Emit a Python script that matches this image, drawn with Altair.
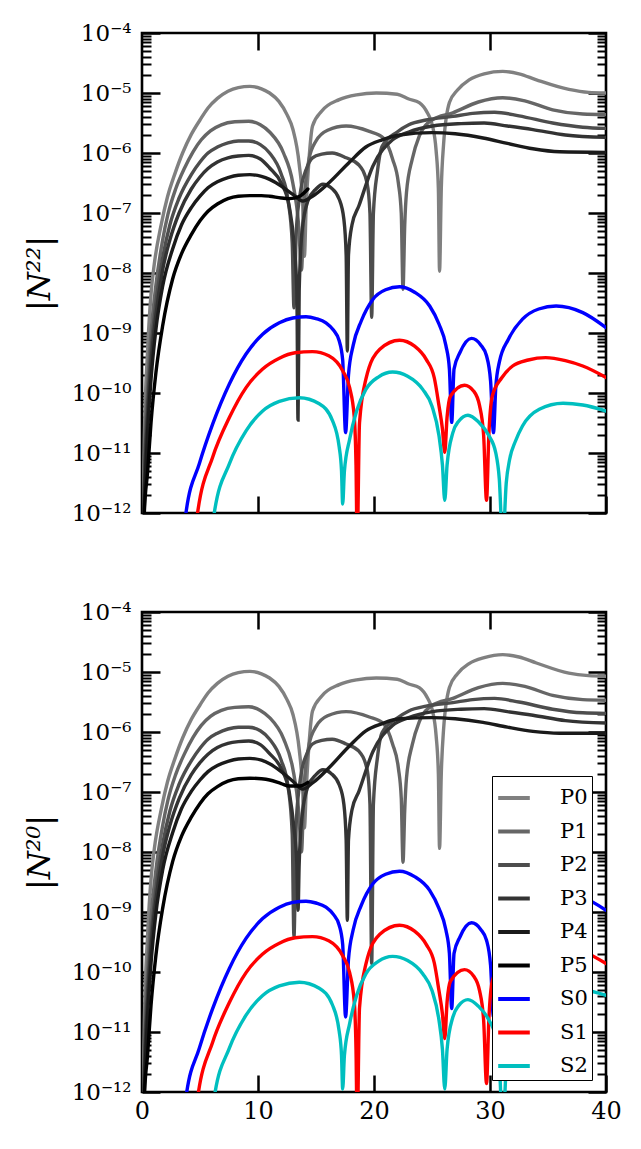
import altair as alt
import pandas as pd

# ---------------- data (x positions and log10 of |N|) ----------------
SERIES = ["P0", "P1", "P2", "P3", "P4", "P5", "S0", "S1", "S2"]
COLORS = ["#808080", "#666666", "#4d4d4d", "#333333", "#1a1a1a", "#000000",
          "#0000ff", "#ff0000", "#00bfbf"]

P0_x = [0.1, 0.2, 0.48, 0.8, 1.06, 1.66, 2.2, 2.81, 3.5, 4.25, 5.0, 5.69, 6.5, 7.41, 8.3, 9.3,
        10.3, 11.0, 11.8, 12.5, 13.0, 13.56, 13.85, 14.0, 14.15, 14.4, 14.7, 15.5, 17.0, 18.5,
        20.2, 22.0, 23.0, 23.9, 24.6, 25.05, 25.35, 25.55, 25.65, 25.8, 26.0, 26.5, 27.2, 28.2,
        29.5, 31.1, 32.5, 34.0, 36.8, 38.5, 40.0]
P0_top = [-12.0, -10.77, -9.3, -8.3, -7.85, -7.19, -6.73, -6.36, -6.0, -5.69, -5.45, -5.25,
          -5.09, -4.97, -4.91, -4.89, -4.93, -5.0, -5.14, -5.36, -5.6, -6.2, -6.85, -7.72, -6.9,
          -6.1, -5.55, -5.3, -5.11, -5.03, -5.0, -5.02, -5.1, -5.16, -5.33, -5.55, -5.95, -6.6,
          -7.97, -6.6, -5.85, -5.16, -4.95, -4.78, -4.68, -4.64, -4.68, -4.78, -4.94, -4.99, -5.0]
P0_bot = [-12.1, -10.87, -9.4, -8.4, -7.95, -7.29, -6.83, -6.46, -6.1, -5.79, -5.55, -5.35,
          -5.19, -5.07, -5.01, -4.99, -5.03, -5.1, -5.24, -5.46, -5.7, -6.3, -6.95, -7.6, -7.0,
          -6.2, -5.65, -5.4, -5.21, -5.13, -5.1, -5.12, -5.2, -5.26, -5.43, -5.65, -6.05, -6.7,
          -7.94, -6.7, -5.95, -5.26, -5.03, -4.86, -4.76, -4.71, -4.75, -4.85, -5.02, -5.06, -5.07]

P1_x = [0.1, 0.2, 0.48, 0.78, 1.2, 1.78, 2.24, 2.9, 3.67, 4.4, 5.11, 5.9, 6.84, 8.0, 9.2, 10.2,
        11.0, 12.2, 13.0, 13.5, 13.75, 13.95, 14.4, 15.0, 16.0, 17.6, 19.6, 20.8, 21.6, 22.1,
        22.35, 22.5, 22.65, 22.8, 23.3, 23.9, 25.0, 26.8, 29.0, 31.1, 33.0, 35.4, 38.0, 40.0]
P1_top = [-12.3, -11.2, -9.9, -9.0, -8.2, -7.45, -7.02, -6.6, -6.25, -5.98, -5.78, -5.63, -5.53,
          -5.48, -5.47, -5.53, -5.65, -6.0, -6.5, -7.2, -7.95, -6.9, -6.1, -5.8, -5.62, -5.55,
          -5.64, -5.75, -6.1, -6.5, -7.0, -8.27, -7.2, -6.66, -6.1, -5.72, -5.45, -5.33, -5.15,
          -5.08, -5.13, -5.28, -5.35, -5.36]
P1_bot = [-12.4, -11.3, -10.0, -9.1, -8.3, -7.56, -7.13, -6.71, -6.36, -6.09, -5.89, -5.74, -5.64,
          -5.59, -5.58, -5.64, -5.76, -6.11, -6.61, -7.3, -8.0, -7.0, -6.21, -5.91, -5.73, -5.66,
          -5.75, -5.86, -6.2, -6.6, -7.1, -8.17, -7.3, -6.77, -6.21, -5.83, -5.56, -5.44, -5.26,
          -5.19, -5.24, -5.39, -5.46, -5.47]

P2_x = [0.1, 0.2, 0.48, 0.78, 1.2, 1.78, 2.4, 3.2, 4.25, 5.0, 5.69, 6.5, 7.41, 8.3, 9.2, 10.2,
        11.0, 12.0, 12.6, 12.95, 13.1, 13.3, 13.7, 14.2, 14.7, 15.5, 16.4, 17.6, 18.7, 19.4,
        19.65, 19.8, 19.95, 20.3, 20.7, 22.0, 23.0, 24.5, 26.8, 28.5, 30.4, 32.5, 35.4, 38.0, 40.0]
P2_top = [-12.5, -11.5, -10.2, -9.3, -8.5, -7.75, -7.2, -6.75, -6.36, -6.15, -6.0, -5.9, -5.83,
          -5.8, -5.80, -5.86, -6.0, -6.35, -6.8, -7.5, -8.58, -7.3, -6.6, -6.25, -6.08, -6.02,
          -6.0, -6.08, -6.2, -6.5, -7.0, -8.74, -7.0, -6.3, -5.89, -5.65, -5.53, -5.45, -5.39,
          -5.34, -5.32, -5.38, -5.50, -5.57, -5.59]
P2_bot = [-12.6, -11.6, -10.3, -9.42, -8.62, -7.87, -7.32, -6.87, -6.48, -6.27, -6.12, -6.02,
          -5.95, -5.92, -5.92, -5.98, -6.12, -6.47, -6.92, -7.7, -9.42, -7.5, -6.72, -6.37, -6.2,
          -6.14, -6.12, -6.2, -6.32, -6.62, -7.2, -9.86, -7.2, -6.42, -6.01, -5.77, -5.65, -5.57,
          -5.51, -5.46, -5.44, -5.5, -5.62, -5.68, -5.69]

P3_x = [0.1, 0.2, 0.48, 0.78, 1.2, 1.78, 2.4, 3.2, 4.25, 5.0, 5.69, 6.5, 7.41, 8.3, 9.2, 10.2,
        11.0, 12.0, 12.7, 13.1, 13.35, 13.45, 13.55, 13.8, 14.3, 15.0, 15.6, 16.3, 17.0, 17.4,
        17.6, 17.7, 17.8, 18.1, 18.7, 19.9, 21.6, 23.0, 25.05, 27.5, 29.5, 31.5, 33.7, 36.5, 40.0]
P3_top = [-12.7, -11.7, -10.4, -9.5, -8.7, -7.95, -7.45, -7.0, -6.6, -6.4, -6.26, -6.15, -6.08,
          -6.05, -6.04, -6.1, -6.25, -6.5, -6.9, -7.5, -8.3, -10.45, -8.3, -7.3, -6.8, -6.6,
          -6.52, -6.58, -6.77, -7.1, -7.7, -9.30, -7.7, -7.2, -6.88, -6.22, -5.78, -5.65, -5.55,
          -5.51, -5.5, -5.55, -5.61, -5.7, -5.74]
P3_bot = [-12.8, -11.8, -10.5, -9.6, -8.8, -8.06, -7.56, -7.11, -6.71, -6.51, -6.37, -6.26,
          -6.19, -6.16, -6.15, -6.21, -6.36, -6.61, -7.01, -7.6, -8.2, -8.97, -8.2, -7.4, -6.91,
          -6.71, -6.63, -6.69, -6.88, -7.2, -7.8, -9.14, -7.8, -7.3, -6.99, -6.33, -5.89, -5.76,
          -5.66, -5.62, -5.61, -5.66, -5.72, -5.81, -5.85]

P4_x = [0.1, 0.2, 0.48, 0.78, 1.2, 1.78, 2.64, 3.4, 4.25, 5.0, 5.69, 6.5, 7.41, 8.3, 9.3, 10.3,
        11.0, 12.0, 13.0, 13.85, 14.7, 16.1, 17.9, 19.3, 20.7, 22.2, 25.0, 27.0, 29.4, 31.5,
        33.7, 36.0, 40.0]
P4_top = [-12.5, -11.9, -10.66, -9.77, -8.94, -8.22, -7.6, -7.2, -6.91, -6.72, -6.58, -6.48,
          -6.41, -6.37, -6.36, -6.39, -6.44, -6.55, -6.69, -6.80, -6.72, -6.5, -6.15, -5.9,
          -5.78, -5.7, -5.66, -5.68, -5.75, -5.84, -5.93, -5.98, -5.99]
P4_bot = [-12.6, -12.0, -10.74, -9.85, -9.02, -8.3, -7.68, -7.28, -6.99, -6.8, -6.66, -6.56,
          -6.49, -6.45, -6.44, -6.47, -6.53, -6.66, -6.82, -6.95, -6.85, -6.6, -6.23, -5.98,
          -5.86, -5.78, -5.76, -5.78, -5.84, -5.92, -5.99, -6.02, -6.02]

P5_x = [0.1, 0.2, 0.48, 0.78, 1.2, 1.78, 2.64, 3.4, 4.25, 5.0, 5.69, 6.5, 7.41, 8.3, 9.3, 10.3,
        11.0, 12.0, 12.7, 13.6, 14.3]
P5_top = [-12.6, -12.0, -11.32, -10.49, -9.66, -8.88, -8.10, -7.68, -7.36, -7.13, -6.97, -6.85,
          -6.76, -6.72, -6.71, -6.71, -6.72, -6.75, -6.76, -6.72, -6.60]
P5_bot = [-12.7, -12.1, -11.38, -10.55, -9.72, -8.94, -8.16, -7.74, -7.42, -7.19, -7.03, -6.91,
          -6.82, -6.78, -6.77, -6.78, -6.8, -6.86, -6.9, -6.9, -6.84]

S0_x = [3.4, 3.79, 4.94, 6.09, 7.53, 8.97, 10.4, 11.84, 13.0, 14.14, 15.0, 15.86, 16.5, 17.0,
        17.3, 17.55, 17.8, 18.2, 18.9, 19.9, 21.0, 22.2, 23.5, 24.8, 25.6, 26.2, 26.5, 26.7,
        26.9, 27.4, 28.4, 29.2, 29.7, 30.05, 30.3, 30.5, 30.8, 31.6, 32.8, 34.2, 35.7, 38.0, 40.0]
S0_top = [-12.8, -12.0, -11.18, -10.52, -9.85, -9.35, -9.02, -8.83, -8.75, -8.73, -8.76, -8.83,
          -8.95, -9.13, -9.45, -10.66, -9.7, -9.21, -8.8, -8.44, -8.28, -8.23, -8.32, -8.55,
          -8.85, -9.21, -9.6, -10.49, -9.6, -9.33, -9.09, -9.2, -9.38, -9.8, -10.66, -9.9, -9.49,
          -9.1, -8.77, -8.6, -8.55, -8.66, -8.91]
S0_bot = [-12.9, -12.09, -11.27, -10.61, -9.94, -9.44, -9.11, -8.92, -8.84, -8.82, -8.85, -8.92,
          -9.04, -9.22, -9.54, -10.75, -9.79, -9.3, -8.89, -8.53, -8.37, -8.32, -8.41, -8.64,
          -8.94, -9.3, -9.69, -10.61, -9.69, -9.42, -9.18, -9.29, -9.47, -9.89, -10.75, -9.99,
          -9.58, -9.19, -8.86, -8.69, -8.64, -8.75, -8.97]

S1_x = [4.3, 4.79, 6.09, 7.53, 8.97, 10.4, 11.84, 13.2, 14.7, 16.1, 17.3, 17.9, 18.3, 18.45,
        18.55, 18.75, 19.3, 20.5, 22.2, 23.5, 24.5, 25.2, 25.6, 25.9, 26.1, 26.3, 26.6, 27.8,
        28.6, 29.1, 29.45, 29.7, 29.9, 30.2, 31.0, 31.95, 33.3, 34.8, 36.5, 38.0, 40.0]
S1_top = [-12.8, -12.0, -11.07, -10.41, -9.91, -9.60, -9.42, -9.33, -9.31, -9.38, -9.63, -9.91,
          -10.4, -11.2, -12.5, -10.5, -9.77, -9.27, -9.12, -9.22, -9.44, -9.75, -10.21, -10.6,
          -10.99, -10.4, -10.05, -9.87, -9.97, -10.21, -10.7, -11.79, -10.7, -10.05, -9.75,
          -9.55, -9.45, -9.41, -9.46, -9.55, -9.74]
S1_bot = [-12.9, -12.1, -11.17, -10.51, -10.01, -9.70, -9.52, -9.43, -9.41, -9.48, -9.73, -10.01,
          -10.5, -11.3, -12.6, -10.6, -9.87, -9.37, -9.22, -9.32, -9.54, -9.85, -10.31, -10.7,
          -11.11, -10.5, -10.15, -9.96, -10.07, -10.31, -10.8, -11.86, -10.8, -10.15, -9.85,
          -9.65, -9.55, -9.51, -9.56, -9.65, -9.86]

S2_x = [5.9, 6.23, 7.53, 8.97, 10.4, 11.84, 13.56, 15.28, 16.42, 17.0, 17.2, 17.3, 17.45, 17.9,
        18.5, 19.3, 20.4, 21.6, 22.9, 24.2, 25.0, 25.6, 25.9, 26.1, 26.3, 26.8, 27.3, 28.1, 29.0,
        29.9, 30.5, 30.8, 31.1, 31.4, 31.7, 32.2, 32.8, 34.25, 36.3, 38.0, 40.0]
S2_top = [-12.8, -12.0, -11.18, -10.63, -10.30, -10.14, -10.08, -10.18, -10.46, -10.9, -11.3,
          -11.85, -11.3, -10.77, -10.3, -9.94, -9.73, -9.65, -9.72, -9.94, -10.22, -10.71, -11.2,
          -11.79, -11.2, -10.66, -10.47, -10.37, -10.48, -10.71, -11.0, -11.43, -12.5, -11.5,
          -11.1, -10.8, -10.55, -10.27, -10.17, -10.2, -10.30]
S2_bot = [-12.9, -12.09, -11.27, -10.72, -10.39, -10.23, -10.17, -10.27, -10.55, -10.99, -11.39,
          -11.95, -11.39, -10.86, -10.39, -10.03, -9.82, -9.74, -9.81, -10.03, -10.31, -10.8,
          -11.29, -11.95, -11.29, -10.75, -10.56, -10.46, -10.57, -10.8, -11.09, -11.52, -12.6,
          -11.59, -11.19, -10.89, -10.64, -10.36, -10.26, -10.29, -10.39]

TOP = {"P0": (P0_x, P0_top), "P1": (P1_x, P1_top), "P2": (P2_x, P2_top),
       "P3": (P3_x, P3_top), "P4": (P4_x, P4_top), "P5": (P5_x, P5_top),
       "S0": (S0_x, S0_top), "S1": (S1_x, S1_top), "S2": (S2_x, S2_top)}
BOT = {"P0": (P0_x, P0_bot), "P1": (P1_x, P1_bot), "P2": (P2_x, P2_bot),
       "P3": (P3_x, P3_bot), "P4": (P4_x, P4_bot), "P5": (P5_x, P5_bot),
       "S0": (S0_x, S0_bot), "S1": (S1_x, S1_bot), "S2": (S2_x, S2_bot)}

X_TICKS = [0, 10, 20, 30, 40]
X_TOP_TICKS = [10, 20, 30]
Y_EXPONENTS = [-4, -5, -6, -7, -8, -9, -10, -11, -12]


def to_df(d):
    rows = []
    for name, (xs, ls) in d.items():
        assert len(xs) == len(ls), name
        for x, l in zip(xs, ls):
            rows.append({"series": name, "x": x, "y": 10.0 ** l})
    return pd.DataFrame(rows)


SUP = str.maketrans("0123456789-", "⁰¹²³⁴⁵⁶⁷⁸⁹⁻")
MAJOR = [10.0 ** e for e in Y_EXPONENTS]
MINOR = [m * 10.0 ** e for e in range(-12, -4) for m in range(2, 10)]
label_expr = ""
for e in Y_EXPONENTS[:-1]:
    label_expr += "datum.value > %g ? '10%s' : " % (3 * 10.0 ** (e - 1), str(e).translate(SUP))
label_expr += "'10%s'" % str(Y_EXPONENTS[-1]).translate(SUP)

FONT = "DejaVu Serif"
W, H = 464, 480


def panel(df, title, show_x_labels, show_legend):
    xs = alt.Scale(domain=[0, 40], nice=False, zero=False)
    ys = alt.Scale(type="log", domain=[1e-12, 1e-4], nice=False)
    if show_legend:
        legend = alt.Legend(orient="none", legendX=350, legendY=164, title=None,
                            symbolType="stroke", symbolSize=1000, symbolStrokeWidth=4,
                            labelFont=FONT, labelFontSize=21, labelColor="black",
                            labelOffset=28, padding=4, rowPadding=5.5,
                            strokeColor="black", fillColor="white")
    else:
        legend = None
    lines = alt.Chart(df).mark_line(strokeWidth=3.4, clip=True, interpolate="monotone",
                                    strokeCap="round").encode(
        x=alt.X("x:Q", scale=xs, axis=alt.Axis(
            orient="bottom", values=X_TICKS, tickSize=17, offset=-17, tickWidth=2.5,
            tickColor="black", domain=False, grid=False, labels=show_x_labels,
            labelFont=FONT, labelFontSize=24, labelColor="black", labelPadding=7,
            labelFlush=False, labelOverlap=False, title=None)),
        y=alt.Y("y:Q", scale=ys, axis=alt.Axis(
            orient="left", values=MAJOR, tickSize=18, offset=-18, tickWidth=2.5,
            tickColor="black", domain=False, grid=False, labelExpr=label_expr,
            labelFont=FONT, labelFontSize=23, labelColor="black", labelPadding=11,
            labelOverlap=False, title=title, titleFont=FONT, titleFontSize=32,
            titleFontStyle="italic", titleFontWeight="normal", titleColor="black",
            titlePadding=15)),
        color=alt.Color("series:N", scale=alt.Scale(domain=SERIES, range=COLORS),
                        legend=legend),
    )

    def ghost(xaxis, yaxis):
        return alt.Chart(df).mark_point(opacity=0, clip=True).encode(
            x=alt.X("x:Q", scale=xs, axis=xaxis),
            y=alt.Y("y:Q", scale=ys, axis=yaxis))

    top_x = alt.Axis(orient="top", values=X_TOP_TICKS, tickSize=17, offset=-17, tickWidth=2.5,
                     tickColor="black", domain=False, grid=False, labels=False, title=None)
    left_minor = alt.Axis(orient="left", values=MINOR, tickSize=9, offset=-9, tickWidth=2,
                          tickColor="black", domain=False, grid=False, labels=False, title=None)
    right_major = alt.Axis(orient="right", values=MAJOR, tickSize=18, offset=-18, tickWidth=2.5,
                           tickColor="black", domain=False, grid=False, labels=False, title=None)
    right_minor = alt.Axis(orient="right", values=MINOR, tickSize=9, offset=-9, tickWidth=2,
                           tickColor="black", domain=False, grid=False, labels=False, title=None)
    g1 = ghost(top_x, left_minor)
    g2 = ghost(None, right_major)
    g3 = ghost(None, right_minor)
    return alt.layer(lines, g1, g2, g3).resolve_axis(
        x="independent", y="independent").properties(width=W, height=H)


top = panel(to_df(TOP), "|N²²|", False, False)
bottom = panel(to_df(BOT), "|N²⁰|", True, True)

chart = alt.vconcat(top, bottom, spacing=72).resolve_scale(color="independent").properties(
    padding={"left": 13, "top": 12, "right": 5, "bottom": 5},
    background="white",
).configure_view(stroke="black", strokeWidth=2.6)

chart.save("out.html", embed_options={"renderer": "svg", "actions": False})
